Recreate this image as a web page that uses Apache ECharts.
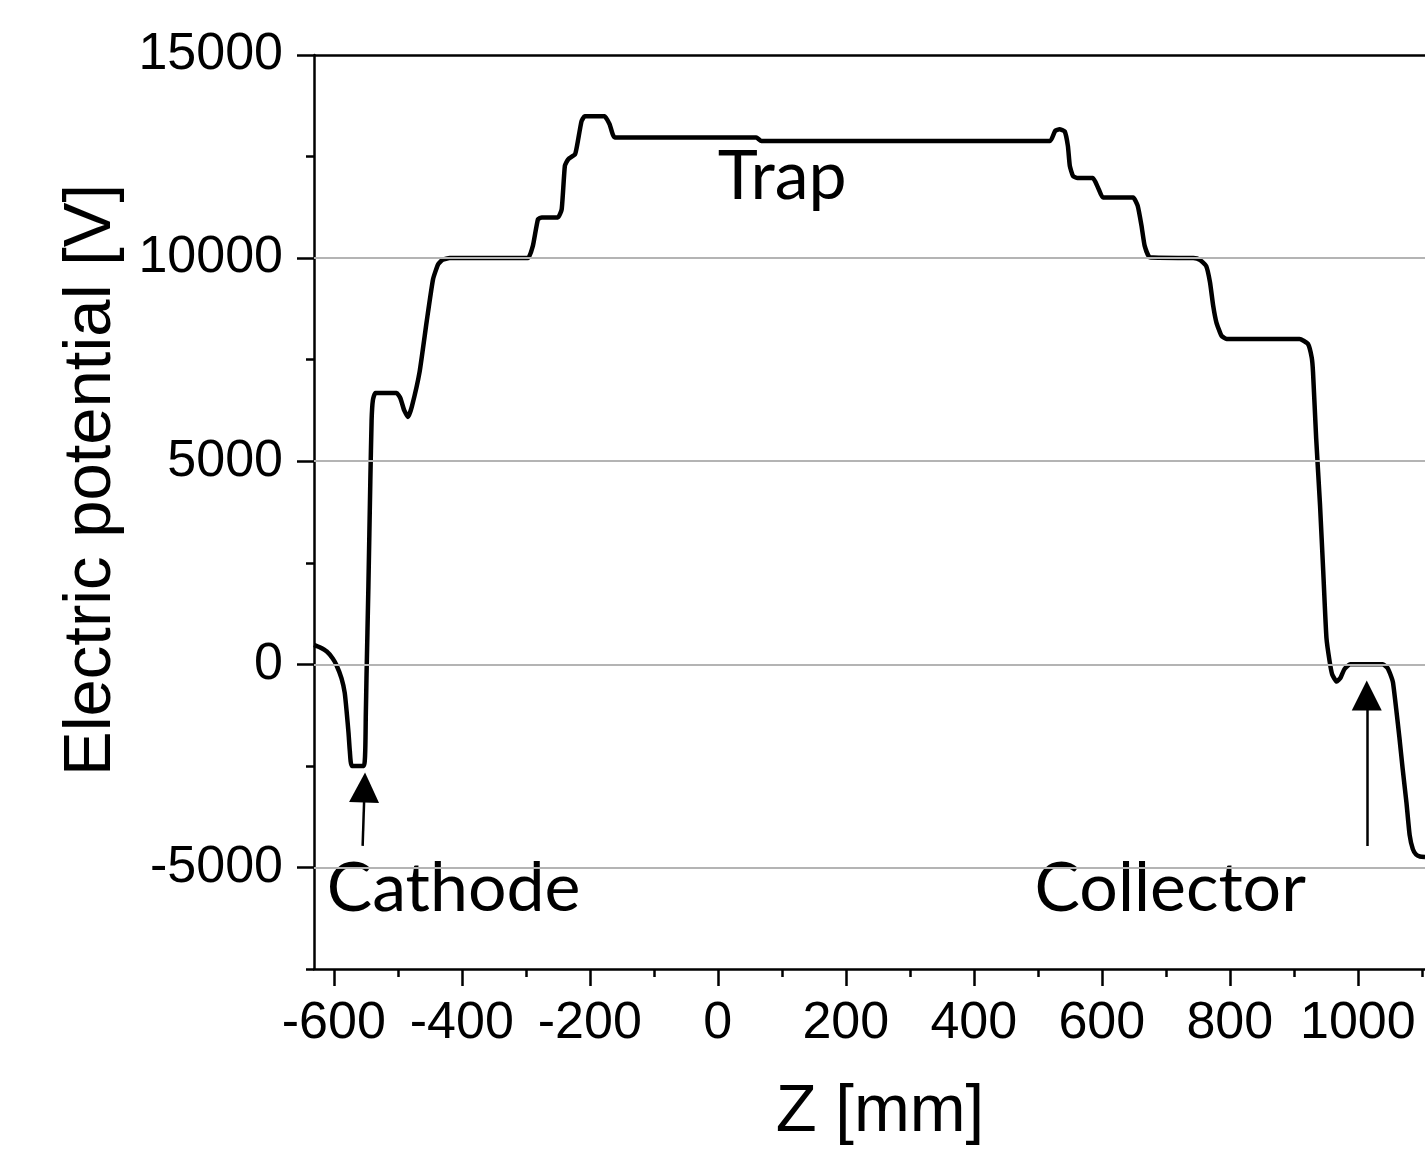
<!DOCTYPE html>
<html>
<head>
<meta charset="utf-8">
<title>Electric potential along Z</title>
<script src="https://cdn.jsdelivr.net/npm/echarts@6/dist/echarts.min.js"></script>
<style>
  html, body { margin: 0; padding: 0; background: #fff; }
  #chart { width: 1425px; height: 1152px; }
</style>
</head>
<body>
<div id="chart"></div>
<script>
// Axial position Z [mm] and on-axis electric potential [V]
const zPos = [
  -631, -622, -611, -602, -596, -588, -583, -580, -577, -575, -572,
  -553, -550, -549, -546, -543, -541, -539, -535,
  -502, -496, -490, -484, -478, -466, -455, -445, -437, -430, -419,
  -297, -289, -281, -275, -250, -244, -239, -234, -223, -219, -213, -208,
  -177, -169, -161, 60, 68,
  519, 527, 534, 542, 547, 550, 555, 562, 586, 594, 602, 649, 656, 662, 667, 675,
  743, 753, 763, 769, 774, 779, 787, 795,
  909, 922, 928, 930, 935, 941, 946, 951, 956, 960, 967, 973, 979, 988,
  1039, 1046, 1051, 1055, 1060, 1065, 1070, 1076, 1081, 1086, 1091, 1097, 1105
];
const potential = [
  480, 420, 315, 150, -16, -344, -700, -1160, -1700, -2140, -2500,
  -2500, -1200, -340, 1920, 4500, 6000, 6500, 6680,
  6680, 6550, 6250, 6090, 6350, 7200, 8430, 9480, 9850, 9960, 10000,
  10000, 10300, 10960, 11000, 11000, 11200, 12270, 12430, 12560, 12850, 13370, 13490,
  13490, 13290, 12970, 12970, 12880,
  12880, 13130, 13170, 13120, 12760, 12270, 12020, 11970, 11970, 11740, 11490, 11490, 11290, 10800, 10300, 10020,
  10000, 9960, 9810, 9410, 8830, 8420, 8090, 8010,
  8010, 7890, 7550, 7200, 5550, 3910, 2280, 650, 70, -250, -425, -330, -120, 0,
  0, -80, -250, -450, -1100, -1800, -2560, -3400, -4200, -4550, -4680, -4730, -4740
];

// Tick values
const xMajor = [-600, -400, -200, 0, 200, 400, 600, 800, 1000];
const xMinor = [-500, -300, -100, 100, 300, 500, 700, 900, 1100];
const yMajor = [-5000, 0, 5000, 10000, 15000];
const yMinor = [-7500, -2500, 2500, 7500, 12500];
const gridValues = [-5000, 0, 5000, 10000];

// Text annotations anchored in data units (left edge, bottom of text box)
const noteText = ['Trap', 'Cathode', 'Collector'];
const noteZ = [0, -611, 495];
const noteV = [11150, -6380, -6380];

// Arrows: tail and head points in data units
const arrowTail = [[-555, -4470], [1014, -4470]];
const arrowHead = [[-552, -3030], [1014, -770]];

const X_MIN = -631, X_MAX = 1105, Y_MIN = -7500, Y_MAX = 15000;
const tickFont = { fontFamily: '"Liberation Sans", Arial, sans-serif', fontSize: 52, color: '#000' };
const plainNumber = v => String(v);

const chart = echarts.init(document.getElementById('chart'), null, { renderer: 'canvas' });

function minorAxis(extra) {
  return Object.assign({
    type: 'value',
    axisLabel: { show: false },
    axisLine: { show: false, onZero: false },
    splitLine: { show: false }
  }, extra);
}

const option = {
  animation: false,
  backgroundColor: '#fff',
  grid: { left: 314, top: 55, right: 0, bottom: 183, containLabel: false },
  xAxis: [
    {
      type: 'value', min: X_MIN, max: X_MAX, position: 'bottom',
      axisLine: { show: true, onZero: false, lineStyle: { color: '#000', width: 2.5 } },
      axisTick: { show: true, inside: false, length: 17, customValues: xMajor, lineStyle: { color: '#000', width: 2.5 } },
      axisLabel: Object.assign({ show: true, margin: 29, customValues: xMajor, formatter: plainNumber }, tickFont),
      splitLine: { show: false }
    },
    minorAxis({
      min: X_MIN, max: X_MAX, position: 'bottom',
      axisTick: { show: true, inside: false, length: 8, customValues: xMinor, lineStyle: { color: '#000', width: 2.5 } }
    })
  ],
  yAxis: [
    {
      type: 'value', min: Y_MIN, max: Y_MAX, position: 'left',
      axisLine: { show: true, onZero: false, lineStyle: { color: '#000', width: 2.5 } },
      axisTick: { show: true, inside: false, length: 17, customValues: yMajor, lineStyle: { color: '#000', width: 2.5 } },
      axisLabel: Object.assign({ show: true, margin: 31, customValues: yMajor, formatter: plainNumber }, tickFont),
      splitLine: { show: false }
    },
    minorAxis({
      min: Y_MIN, max: Y_MAX, position: 'left', offset: 0,
      axisTick: { show: true, inside: false, length: 8, customValues: yMinor, lineStyle: { color: '#000', width: 2.5 } }
    })
  ],
  series: [
    {
      type: 'line',
      xAxisIndex: 0, yAxisIndex: 0,
      data: zPos.map((z, i) => [z, potential[i]]),
      showSymbol: false,
      smooth: 0.15,
      lineStyle: { color: '#000', width: 4.5 },
      clip: true,
      markLine: {
        silent: true,
        symbol: 'none',
        animation: false,
        label: { show: false },
        data: gridValues.map(v => ({ yAxis: v, lineStyle: { color: '#b4b4b4', width: 2, type: 'solid' } }))
          .concat([{ yAxis: Y_MAX, lineStyle: { color: '#000', width: 2.5, type: 'solid' } }])
      }
    },
    {
      // annotation arrows
      type: 'lines',
      coordinateSystem: 'cartesian2d',
      xAxisIndex: 0, yAxisIndex: 0,
      silent: true,
      symbol: ['none', 'triangle'],
      symbolSize: [26, 30],
      lineStyle: { color: '#000', width: 2.5, opacity: 1 },
      data: arrowTail.map((t, i) => ({ coords: [t, arrowHead[i]] }))
    }
  ]
};

chart.setOption(option);

// Axis titles and annotation texts
const graphics = [
  {
    type: 'text', x: 92, y: 480, rotation: Math.PI / 2,
    style: { text: 'Electric potential [V]', fill: '#000', font: '67px "Liberation Sans", Arial, sans-serif', align: 'center', verticalAlign: 'middle' }
  },
  {
    type: 'text', x: 880, y: 1113,
    style: { text: 'Z [mm]', fill: '#000', font: '67px "Liberation Sans", Arial, sans-serif', align: 'center', verticalAlign: 'middle' }
  }
];
noteText.forEach((t, i) => {
  const p = chart.convertToPixel({ xAxisIndex: 0, yAxisIndex: 0 }, [noteZ[i], noteV[i]]);
  graphics.push({
    type: 'text', x: p[0], y: p[1],
    style: { text: t, fill: '#000', font: '68px Lato, "Open Sans", sans-serif', align: 'left', verticalAlign: 'bottom' }
  });
});
chart.setOption({ graphic: graphics });
</script>
</body>
</html>
